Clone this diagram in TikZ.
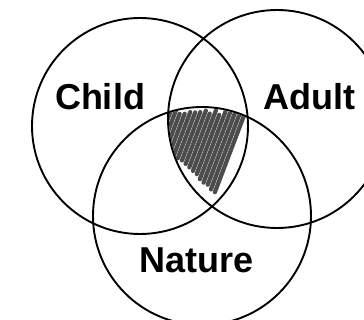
\documentclass[tikz,border=0pt]{standalone}
\usepackage{fontspec}
\setmainfont{Liberation Sans}
\tikzset{ring/.style={draw=black, line width=1.9pt},
  tag/.style={font=\bfseries\fontsize{36}{40}\selectfont, inner sep=0pt},
  scrib/.style={draw=black!70, line width=4.2pt, line cap=round}}

\begin{document}
\begin{tikzpicture}[x=1pt,y=-1pt]
  \useasboundingbox (0,0) rectangle (364,320);

  \coordinate (c) at (140,126);
  \coordinate (a) at (277,119);
  \coordinate (n) at (202,216);

  % shaded middle
  \begin{scope}
    \clip (c) circle (107pt);
    \clip (a) circle (108pt);
    \clip (n) circle (108pt);
    \pgfmathsetseed{7}
    \foreach \s in {168,173,...,250}{
      \pgfmathsetmacro{\yt}{110+6*rnd}
      \pgfmathsetmacro{\yb}{(\s+35.6)/1.49+3*rnd}
      \draw[scrib] (\s-0.38*\yt+39.9,\yt) -- (\s-0.38*\yb+39.9,\yb);
    }
  \end{scope}

  \draw[ring] (c) circle (108pt);
  \draw[ring] (a) circle (109pt);
  \draw[ring] (n) circle (109pt);

  \node[tag] (child) at (100,97) {Child};
  \node[tag] (adult) at (309,97) {Adult};
  \node[tag] (nature) at (197,260) {Nature};
\end{tikzpicture}
\end{document}
